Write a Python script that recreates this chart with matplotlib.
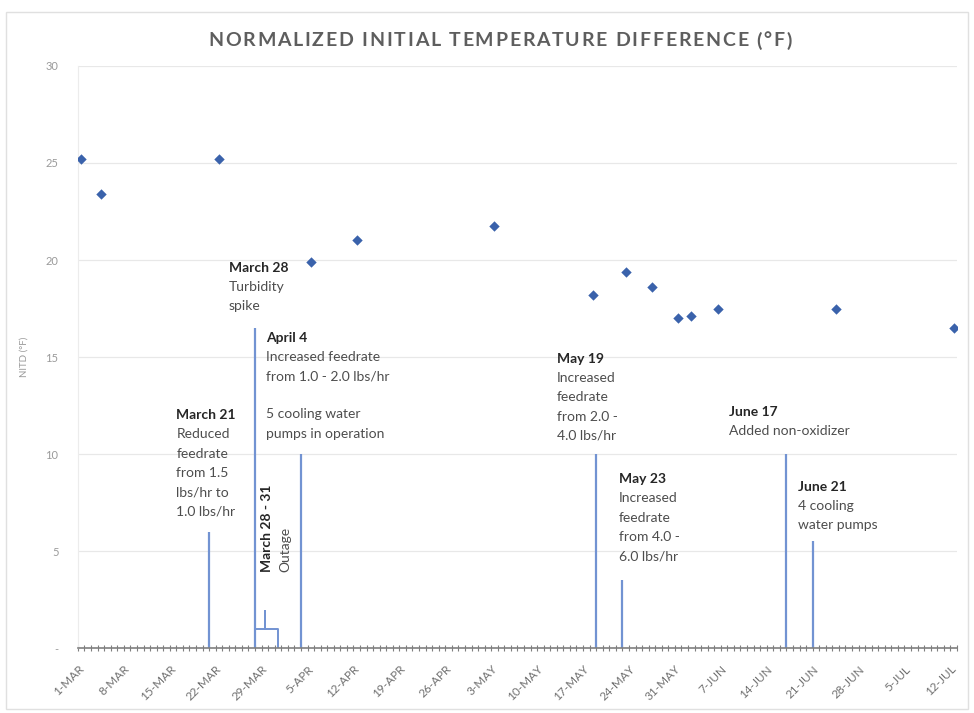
import matplotlib
matplotlib.use("Agg")
import matplotlib.pyplot as plt
import matplotlib.dates as mdates
import numpy as np
import pandas as pd
from matplotlib.patches import Rectangle

plt.rcParams['font.family'] = ['Lato', 'DejaVu Sans']

# measured NITD values
sample_dates = pd.to_datetime(['2021-03-01', '2021-03-04', '2021-03-22', '2021-04-05',
                               '2021-04-12', '2021-05-03', '2021-05-18', '2021-05-23',
                               '2021-05-27', '2021-05-31', '2021-06-02', '2021-06-06',
                               '2021-06-24', '2021-07-12'])
nitd_values = [25.2, 23.4, 25.2, 19.9, 21.05, 21.75, 18.2, 19.4, 18.6, 17.0, 17.1, 17.5, 17.5, 16.5]

# event marker lines
event_dates = pd.to_datetime(['2021-03-21', '2021-03-28', '2021-04-04', '2021-05-19',
                              '2021-05-23', '2021-06-17', '2021-06-21'])
event_heights = [6.0, 16.5, 10.0, 10.0, 3.5, 10.0, 5.5]

# outage bracket
outage_dates = pd.to_datetime(['2021-03-28', '2021-03-31'])
outage_level = 1.0
outage_tip = 1.9

tick_dates = pd.date_range('2021-03-01', '2021-07-12', freq='7D')
tick_labels = ['1-MAR', '8-MAR', '15-MAR', '22-MAR', '29-MAR', '5-APR', '12-APR', '19-APR',
               '26-APR', '3-MAY', '10-MAY', '17-MAY', '24-MAY', '31-MAY', '7-JUN', '14-JUN',
               '21-JUN', '28-JUN', '5-JUL', '12-JUL']

y_ticks = [0, 5, 10, 15, 20, 25, 30]
y_tick_labels = ['-', '5', '10', '15', '20', '25', '30']

title = 'NORMALIZED INITIAL TEMPERATURE DIFFERENCE (°F)'

# annotations: (anchor date, top value, heading, body)
notes = [
    ('2021-03-16', 12.3, 'March 21', 'Reduced\nfeedrate\nfrom 1.5\nlbs/hr to\n1.0 lbs/hr'),
    ('2021-03-24', 19.9, 'March 28', 'Turbidity\nspike'),
    ('2021-03-29 16:00', 16.3, 'April 4', 'Increased feedrate\nfrom 1.0 - 2.0 lbs/hr\n\n5 cooling water\npumps in operation'),
    ('2021-05-13', 15.2, 'May 19', 'Increased\nfeedrate\nfrom 2.0 -\n4.0 lbs/hr'),
    ('2021-05-22 12:00', 9.0, 'May 23', 'Increased\nfeedrate\nfrom 4.0 -\n6.0 lbs/hr'),
    ('2021-06-08 06:00', 12.5, 'June 17', 'Added non-oxidizer'),
    ('2021-06-18 18:00', 8.6, 'June 21', '4 cooling\nwater pumps'),
]

line_color = '#7293d2'
point_color = '#3a62ab'
text_dark = '#262626'
text_body = '#4d4d4d'
axis_gray = '#7f7f7f'

fig = plt.figure(figsize=(9.74, 7.13), dpi=100)
ax = fig.add_axes([0.080, 0.091, 0.9025, 0.8165])

fig.patches.append(Rectangle((0.006, 0.006), 0.988, 0.977, transform=fig.transFigure,
                             fill=False, edgecolor='#e0e0e0', lw=1))

for y in y_ticks[1:]:
    ax.axhline(y, color='#e8e8e8', lw=0.9, zorder=0)

ax.vlines(event_dates, 0, event_heights, color=line_color, lw=1.6, zorder=2)

s, e = outage_dates
mid = s + (e - s) / 2
br_x = [s, s, mid, mid, mid, e + pd.Timedelta(hours=12), e + pd.Timedelta(hours=12)]
br_y = [0, outage_level, outage_level, outage_tip, outage_level, outage_level, 0]
ax.plot(br_x, br_y, color=line_color, lw=1.4, zorder=2)

ax.scatter(sample_dates + pd.Timedelta(hours=12), nitd_values, marker='D', s=28,
           color=point_color, zorder=3, linewidths=0)

for d, top, head, body in notes:
    x = pd.Timestamp(d)
    ax.text(x, top, head, fontsize=10, fontweight='bold', color=text_dark,
            va='top', ha='left')
    ax.annotate(body, (x, top), xytext=(0, -13.7), textcoords='offset points',
                fontsize=10, color=text_body, va='top', ha='left', linespacing=1.72)

ax.text(pd.Timestamp('2021-03-29 18:00'), 3.9, 'March 28 - 31', rotation=90, fontsize=10,
        fontweight='bold', color=text_dark, ha='center', va='bottom')
ax.text(pd.Timestamp('2021-04-01 16:00'), 3.9, 'Outage', rotation=90, fontsize=10,
        color=text_body, ha='center', va='bottom')

ax.set_xlim(pd.Timestamp('2021-03-01'), pd.Timestamp('2021-07-13'))
ax.set_ylim(0, 30)

ax.set_xticks(tick_dates)
ax.set_xticklabels(tick_labels, rotation=45, ha='right', rotation_mode='anchor',
                   fontsize=8.5, color='#707070')
ax.xaxis.set_minor_locator(mdates.DayLocator())
ax.tick_params(axis='x', which='both', direction='inout', length=4, width=0.8,
               color=axis_gray, pad=9)

ax.set_yticks(y_ticks)
ax.set_yticklabels(y_tick_labels, fontsize=8, color='#9a9a9a')
ax.tick_params(axis='y', length=0, pad=14)
ax.set_ylabel('NITD (°F)', fontsize=7, color='#9a9a9a', labelpad=12)

for side in ['top', 'right']:
    ax.spines[side].set_visible(False)
ax.spines['left'].set_color('#ececec')
ax.spines['bottom'].set_color(axis_gray)
ax.spines['bottom'].set_linewidth(1.2)

# title with letter spacing, drawn char by char
renderer = fig.canvas.get_renderer()
title_kw = dict(fontsize=14, fontweight='bold', color='#5e5e5e', va='center', ha='left')
tracking = 1.75
title_center = 500
probe = fig.text(0, 0, 'x', **title_kw)
xw = probe.get_window_extent(renderer).width
probe.remove()
full = fig.text(0, 0, title + 'x', **title_kw)
total = full.get_window_extent(renderer).width - xw + tracking * (len(title) - 1)
full.remove()
left = title_center - total / 2
for i, ch in enumerate(title):
    t = fig.text(0, 0, title[:i] + 'x', **title_kw)
    offset = t.get_window_extent(renderer).width - xw
    t.remove()
    fig.text((left + offset + tracking * i) / fig.bbox.width, 0.943, ch, **title_kw)

fig.savefig('out.png', dpi=100)
